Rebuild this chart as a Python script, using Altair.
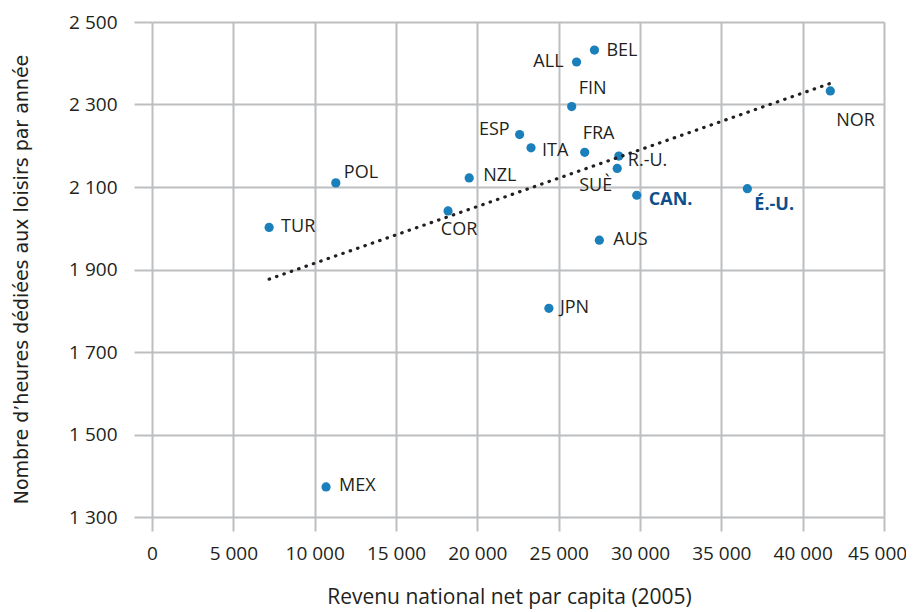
import altair as alt
import pandas as pd

# ---- data ----
pays = ["TUR", "POL", "COR", "NZL", "ESP", "ITA", "ALL", "BEL", "FIN", "FRA",
        "R.-U.", "SUÈ", "CAN.", "AUS", "É.-U.", "NOR", "JPN", "MEX"]
revenu = [7200, 11300, 18200, 19500, 22600, 23300, 26100, 27200, 25800, 26600,
          28700, 28600, 29800, 27500, 36600, 41700, 24400, 10700]
loisirs = [2002, 2110, 2042, 2122, 2227, 2195, 2403, 2432, 2295, 2184,
           2175, 2145, 2080, 1971, 2096, 2333, 1806, 1373]
surligne = ["CAN.", "É.-U."]
x_ticks = [0, 5000, 10000, 15000, 20000, 25000, 30000, 35000, 40000, 45000]
y_ticks = [1300, 1500, 1700, 1900, 2100, 2300, 2500]

df = pd.DataFrame({"pays": pays, "revenu": revenu, "loisirs": loisirs})

# ---- label placement (style) ----
label_style = {
    "TUR": ("left", 12, 0), "POL": ("left", 8, -10), "COR": ("center", 11, 19),
    "NZL": ("left", 14, -2), "ESP": ("right", -10, -5), "ITA": ("left", 11, 3),
    "ALL": ("right", -13, 0), "BEL": ("left", 12, 1), "FIN": ("left", 7, -18),
    "FRA": ("left", -2, -18), "R.-U.": ("left", 9, 5), "SUÈ": ("right", -5, 18),
    "CAN.": ("left", 12, 5), "AUS": ("left", 14, 0), "É.-U.": ("left", 7, 16),
    "NOR": ("left", 6, 30), "JPN": ("left", 11, 0), "MEX": ("left", 13, -1),
}

GRID = "#bcbec0"
TXT = "#231f20"
DOT = "#1a7fba"
HIL = "#0d4f8b"
FONT = "Open Sans"

x_enc = alt.X(
    "revenu:Q",
    scale=alt.Scale(domain=[0, 45000], nice=False, zero=False),
    axis=alt.Axis(
        values=x_ticks, grid=True, gridColor=GRID, gridWidth=2,
        tickSize=14, tickWidth=2, tickColor=GRID, domain=False,
        labelExpr="replace(format(datum.value, ','), ',', ' ')",
        labelFont=FONT, labelFontSize=19, labelColor=TXT, labelPadding=13,
        labelOffset=alt.condition(alt.datum.value == 45000, alt.value(-7), alt.value(0)),
        labelFlush=False, labelOverlap=False,
        title="Revenu national net par capita (2005)",
        titleFont=FONT, titleFontSize=21, titleFontWeight="normal", titleColor=TXT,
        titleX=357, titleY=80, titleBaseline="middle", titleAlign="center",
    ),
)
y_enc = alt.Y(
    "loisirs:Q",
    scale=alt.Scale(domain=[1300, 2500], nice=False, zero=False),
    axis=alt.Axis(
        values=y_ticks, grid=True, gridColor=GRID, gridWidth=2,
        tickSize=18, tickWidth=2, tickColor=GRID, domain=False,
        labelExpr="replace(format(datum.value, ','), ',', ' ')",
        labelFont=FONT, labelFontSize=19, labelColor=TXT, labelPadding=17,
        labelOverlap=False, labelFlush=False,
        title="Nombre d’heures dédiées aux loisirs par année",
        titleFont="DejaVu Sans", titleFontSize=19, titleFontWeight="normal",
        titleColor=TXT, titleAngle=-90, titleX=-131, titleY=257,
        titleBaseline="middle", titleAlign="center",
    ),
)

base = alt.Chart(df)

points = base.mark_circle(size=85, color=DOT, opacity=1).encode(x=x_enc, y=y_enc)

trend = base.transform_regression("revenu", "loisirs").mark_line(
    color=TXT, strokeWidth=3.2, strokeDash=[0.5, 7.3], strokeCap="round"
).encode(x="revenu:Q", y="loisirs:Q")

labels = []
for p in pays:
    align, dx, dy = label_style[p]
    hl = p in surligne
    labels.append(
        base.transform_filter(alt.datum.pays == p).mark_text(
            align=align, baseline="middle", dx=dx, dy=dy,
            font=FONT, fontSize=18,
            fontWeight="bold" if hl else "normal",
            color=HIL if hl else TXT,
        ).encode(x="revenu:Q", y="loisirs:Q", text="pays:N")
    )

chart = alt.layer(points, trend, *labels).properties(
    width=732, height=495,
    autosize=alt.AutoSizeParams(type="none"),
    padding={"left": 144, "top": 14, "right": 22, "bottom": 95},
).configure_view(stroke=None)

chart.save("out.html", embed_options={"renderer": "svg", "actions": False})
